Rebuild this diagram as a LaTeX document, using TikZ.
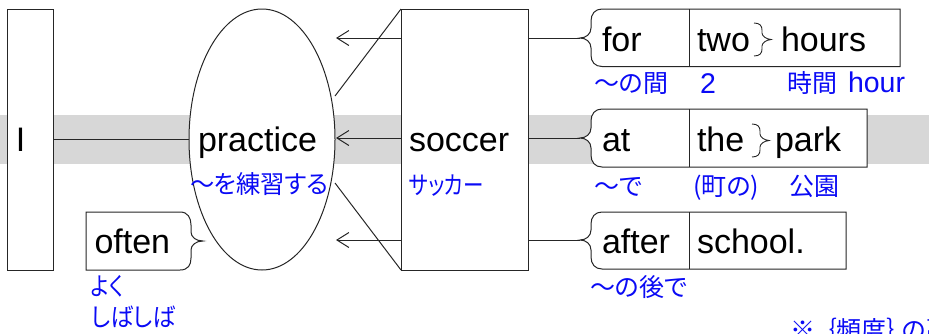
\documentclass[tikz,border=0pt]{standalone}
\usepackage{fontspec}
\setmainfont{Liberation Sans}
\newfontfamily\cjk[RawFeature=+palt]{Noto Sans CJK JP}
\usetikzlibrary{arrows.meta,shapes.geometric}
\definecolor{bandgray}{RGB}{215,215,215}
\definecolor{jablue}{RGB}{10,10,245}
\tikzset{
  x=1pt,y=-1pt,
  edgeline/.style={draw=black!85,line width=1pt},
  boxnode/.style={draw=black!85,fill=white,line width=1pt,rectangle,inner sep=0pt,outer sep=0pt,anchor=north west},
  en/.style={inner sep=0pt,outer sep=0pt,anchor=base west,text=black,font=\fontsize{34}{34}\selectfont},
  ja/.style={inner sep=0pt,outer sep=0pt,anchor=base west,text=jablue,font=\fontsize{25}{25}\selectfont\cjk},
  arr/.style={edgeline,-{Straight Barb[length=12pt,width=15pt,line width=1pt]}},
}
\begin{document}
\begin{tikzpicture}
\useasboundingbox (0,0) rectangle (929,333);
\clip (0,0) rectangle (929,333);
\fill[bandgray] (0,115) rectangle (929,164);

% main boxes
\node[boxnode,minimum width=45.5pt,minimum height=261pt] (ibox) at (7.5,9) {};
\node[draw=black!85,fill=white,line width=1pt,ellipse,inner sep=0pt,outer sep=0pt,minimum width=146pt,minimum height=261pt] (prac) at (262,139.5) {};
\node[boxnode,minimum width=127pt,minimum height=261pt] (soc) at (401,9) {};

% free ends
\coordinate (d1) at (335,96);
\coordinate (d2) at (335,183);
\coordinate (a1) at (336,38);
\coordinate (a2) at (336,138);
\coordinate (a3) at (336,240);
\coordinate (t1) at (580,38);
\coordinate (t2) at (580,138);
\coordinate (t3) at (580,240);

\draw[edgeline] (ibox.east) -- (prac.west);
\draw[edgeline] (soc.north west) -- (d1);
\draw[edgeline] (soc.south west) -- (d2);
\draw[arr] (soc.west |- a1) -- (a1);
\draw[arr] (soc.west |- a2) -- (a2);
\draw[arr] (soc.west |- a3) -- (a3);
\draw[edgeline] (soc.east |- t1) -- (t1);
\draw[edgeline] (soc.east |- t2) -- (t2);
\draw[edgeline] (soc.east |- t3) -- (t3);

% often box with brace on the right
\draw[edgeline,fill=white] (86,212) -- (180,212) .. controls (188,212) and (191,218) .. (191,225) -- (191,232)
  .. controls (191,237) and (196,241) .. (203,241) .. controls (196,241) and (191,245) .. (191,250) -- (191,258)
  .. controls (191,265) and (188,270) .. (180,270) -- (86,270) -- cycle;

% right-hand boxes with brace on the left
\draw[edgeline,fill=white] (900,9) -- (602,9) .. controls (595,9) and (591,14) .. (591,21) -- (591,28)
  .. controls (591,34) and (586,38) .. (580,38) .. controls (586,38) and (591,42) .. (591,48) -- (591,55)
  .. controls (591,62) and (595,66.5) .. (602,66.5) -- (900,66.5) -- cycle;
\draw[edgeline] (689,9) -- (689,66.5);
\draw[edgeline,fill=white] (867,109) -- (602,109) .. controls (595,109) and (591,114) .. (591,121) -- (591,128)
  .. controls (591,134) and (586,138) .. (580,138) .. controls (586,138) and (591,142) .. (591,148) -- (591,155)
  .. controls (591,162) and (595,167) .. (602,167) -- (867,167) -- cycle;
\draw[edgeline] (689,109) -- (689,167);
\draw[edgeline,fill=white] (846,212) -- (602,212) .. controls (595,212) and (591,217) .. (591,224) -- (591,230)
  .. controls (591,236) and (586,240) .. (580,240) .. controls (586,240) and (591,244) .. (591,250) -- (591,257)
  .. controls (591,264) and (595,269) .. (602,269) -- (846,269) -- cycle;
\draw[edgeline] (689,212) -- (689,269);

% inner braces
\draw[edgeline,line width=0.9pt] (754,23) .. controls (760,23) and (762,26) .. (762,30) -- (762,33)
  .. controls (762,36) and (766,39) .. (771,39.5) .. controls (766,40) and (762,43) .. (762,46) -- (762,49)
  .. controls (762,53) and (760,56) .. (754,56);
\draw[edgeline,line width=0.9pt] (752,124) .. controls (758,124) and (760,127) .. (760,131) -- (760,134)
  .. controls (760,137) and (764,140) .. (769,140.5) .. controls (764,141) and (760,144) .. (760,147) -- (760,150)
  .. controls (760,154) and (758,157) .. (752,157);

% English text
\node[en] (tI) at (16,151) {I};
\node[en] (tprac) at (198,151.5) {practice};
\node[en] (tsoc) at (409,151.5) {soccer};
\node[en] (toften) at (94.5,253) {often};
\node[en] (tfor) at (602,51) {for};
\node[en] (ttwo) at (697,51) {two};
\node[en] (thours) at (781,51) {hours};
\node[en] (tat) at (602,151.5) {at};
\node[en] (tthe) at (697,151.5) {the};
\node[en] (tpark) at (775,151.5) {park};
\node[en] (tafter) at (602,253) {after};
\node[en] (tschool) at (697,253) {school.};

% Japanese text
\node[ja] (j1) at (190,193) {\scalebox{0.97}[1]{〜を練習する}};
\node[ja] (j2) at (409,194) {\scalebox{0.82}[1]{サッカー}};
\node[ja] (j3) at (91,295) {\scalebox{0.84}[1]{よく}};
\node[ja] (j4) at (91,326) {\scalebox{0.91}[1]{しばしば}};
\node[ja] (j5) at (594,92) {〜の間};
\node[ja,font=\fontsize{28.5}{28.5}\selectfont] (j6) at (700,93) {2};
\node[ja] (j7) at (787,92) {時間\hspace{11pt}{\rmfamily\fontsize{28.5}{28.5}\selectfont hour}};
\node[ja] (j8) at (594,195) {〜で};
\node[ja] (j9) at (693,195) {(町の)};
\node[ja] (j10) at (789,195) {公園};
\node[ja] (j11) at (590,296) {〜の後で};
\node[ja] (j12) at (790,339) {※\hspace{9pt}｛頻度｝\hspace{3pt}の副詞};
\end{tikzpicture}
\end{document}
